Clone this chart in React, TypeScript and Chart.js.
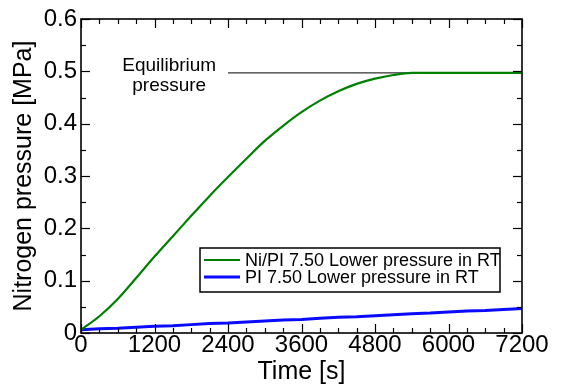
import React, { useEffect, useRef } from "react";
import { Chart, registerables } from "chart.js";

Chart.register(...registerables);

const timeS = [0, 300, 600, 900, 1200, 1500, 1800, 2100, 2400, 2700, 3000, 3300, 3600, 3900, 4200, 4500, 4800, 5100, 5400, 5700, 6000, 6300, 6600, 6900, 7200];
const niPiPressure = [0.006, 0.032, 0.065, 0.105, 0.146, 0.185, 0.224, 0.262, 0.298, 0.333, 0.367, 0.396, 0.422, 0.444, 0.462, 0.476, 0.486, 0.493, 0.497, 0.497, 0.497, 0.497, 0.497, 0.497, 0.497];
const piPressure = [0.006, 0.008, 0.009, 0.011, 0.013, 0.014, 0.016, 0.018, 0.019, 0.021, 0.023, 0.025, 0.026, 0.028, 0.030, 0.031, 0.033, 0.035, 0.037, 0.038, 0.040, 0.042, 0.043, 0.045, 0.047];
const equilibriumTime = [2400, 7200];
const equilibriumPressure = [0.497, 0.497];
const seriesLabels = ["Ni/PI 7.50 Lower pressure in RT", "PI 7.50 Lower pressure in RT"];
const annotationLines = ["Equilibrium", "pressure"];
const annotationAt = { x: 1440, y: 0.493 };
const xTicks = [0, 1200, 2400, 3600, 4800, 6000, 7200];
const yTicks = [0, 0.1, 0.2, 0.3, 0.4, 0.5, 0.6];

const FONT = "'Liberation Sans', Arial, sans-serif";
const GREEN = "#008000";
const BLUE = "#0a0aff";

const framePlugin = {
  id: "frameTicks",
  afterDatasetsDraw(chart: any) {
    const { ctx, chartArea: a, scales } = chart;
    const x = scales.x, y = scales.y;
    ctx.save();
    ctx.strokeStyle = "#000";
    ctx.lineWidth = 1.2;
    const seg = (x1: number, y1: number, x2: number, y2: number) => {
      ctx.beginPath();
      ctx.moveTo(x1, y1);
      ctx.lineTo(x2, y2);
      ctx.stroke();
    };
    for (let i = 0; i <= 24; i++) {
      const v = i * 300;
      const px = Math.round(x.getPixelForValue(v)) + 0.5;
      const len = i % 4 === 0 ? 9 : 5;
      seg(px, a.bottom, px, a.bottom - len);
      seg(px, a.top, px, a.top + len);
    }
    for (let i = 0; i <= 12; i++) {
      const v = i * 0.05;
      const py = Math.round(y.getPixelForValue(v)) + 0.5;
      const len = i % 2 === 0 ? 9 : 5;
      seg(a.left, py, a.left + len, py);
      seg(a.right, py, a.right - len, py);
    }
    ctx.lineWidth = 1.6;
    ctx.strokeRect(a.left, a.top, a.right - a.left, a.bottom - a.top);

    // annotation text
    ctx.fillStyle = "#000";
    ctx.font = `19px ${FONT}`;
    ctx.textAlign = "center";
    ctx.textBaseline = "middle";
    const ax = x.getPixelForValue(annotationAt.x);
    const ay = y.getPixelForValue(annotationAt.y);
    ctx.fillText(annotationLines[0], ax, ay - 9);
    ctx.fillText(annotationLines[1], ax, ay + 11);

    // legend box
    const bx = a.left + 119, by = a.top + 229, bw = 300, bh = 44;
    ctx.fillStyle = "#fff";
    ctx.fillRect(bx, by, bw, bh);
    ctx.lineWidth = 1.5;
    ctx.strokeRect(bx, by, bw, bh);
    const colors = [GREEN, BLUE];
    const widths = [2, 3];
    ctx.font = `18px ${FONT}`;
    ctx.textAlign = "left";
    for (let i = 0; i < seriesLabels.length; i++) {
      const ly = by + 12 + i * 17;
      ctx.strokeStyle = colors[i];
      ctx.lineWidth = widths[i];
      seg(bx + 4, ly, bx + 40, ly);
      ctx.fillStyle = "#000";
      ctx.fillText(seriesLabels[i], bx + 45, ly + 1);
    }
    ctx.restore();
  },
};

export default function App() {
  const ref = useRef<HTMLCanvasElement>(null);
  useEffect(() => {
    if (!ref.current) return;
    const chart = new Chart(ref.current, {
      type: "line",
      data: {
        datasets: [
          {
            label: seriesLabels[0],
            data: timeS.map((t, i) => ({ x: t, y: niPiPressure[i] })),
            borderColor: GREEN,
            borderWidth: 2.2,
            pointRadius: 0,
            cubicInterpolationMode: "monotone",
            order: 1,
          },
          {
            label: seriesLabels[1],
            data: timeS.map((t, i) => ({ x: t, y: piPressure[i] })),
            borderColor: BLUE,
            borderWidth: 3,
            pointRadius: 0,
            order: 2,
          },
          {
            label: "Equilibrium pressure",
            data: equilibriumTime.map((t, i) => ({ x: t, y: equilibriumPressure[i] })),
            borderColor: "#000",
            borderWidth: 1,
            pointRadius: 0,
            order: 3,
          },
        ],
      },
      options: {
        animation: false,
        responsive: false,
        devicePixelRatio: 1,
        layout: { padding: { top: 19, right: 45, left: 0, bottom: 0 } },
        plugins: { legend: { display: false }, tooltip: { enabled: false } },
        scales: {
          x: {
            type: "linear",
            min: 0,
            max: 7200,
            afterBuildTicks: (s: any) => {
              s.ticks = xTicks.map((v) => ({ value: v }));
            },
            afterFit: (s: any) => {
              s.height = 55;
            },
            grid: { display: false, drawTicks: false },
            border: { display: false },
            ticks: {
              color: "#000",
              font: { family: FONT, size: 24, lineHeight: 1 },
              padding: 0,
              maxRotation: 0,
              autoSkip: false,
              callback: (v: any) => String(v),
            },
            title: {
              display: true,
              text: "Time [s]",
              color: "#000",
              font: { family: FONT, size: 25 },
              padding: { top: 0, bottom: 1 },
            },
          },
          y: {
            type: "linear",
            min: 0,
            max: 0.6,
            afterBuildTicks: (s: any) => {
              s.ticks = yTicks.map((v) => ({ value: v }));
            },
            afterFit: (s: any) => {
              s.width = 81;
            },
            grid: { display: false, drawTicks: false },
            border: { display: false },
            ticks: {
              color: "#000",
              font: { family: FONT, size: 24 },
              padding: 4,
              autoSkip: false,
              callback: (v: any) => (v === 0 ? "0" : Number(v).toFixed(1)),
            },
            title: {
              display: true,
              text: "Nitrogen pressure [MPa]",
              color: "#000",
              font: { family: FONT, size: 25 },
              padding: { top: 9, bottom: 0 },
            },
          },
        },
      },
      plugins: [framePlugin],
    } as any);
    return () => chart.destroy();
  }, []);
  return (
    <div style={{ position: "absolute", left: 0, top: 0, width: 567, height: 388, background: "#fff" }}>
      <canvas ref={ref} width={567} height={388} />
    </div>
  );
}
